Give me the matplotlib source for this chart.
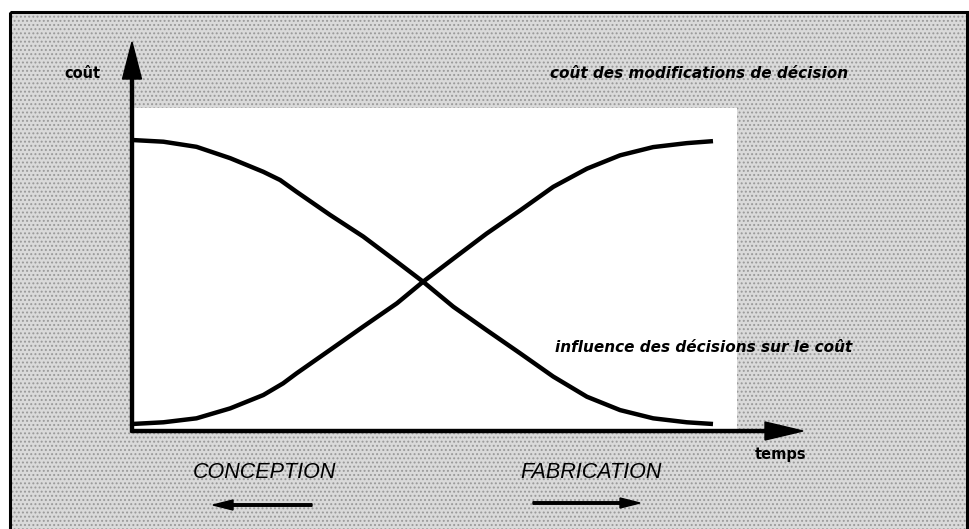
import matplotlib
matplotlib.use("Agg")
import matplotlib.pyplot as plt
from matplotlib.patches import Rectangle

# ---- data ----
temps = [0, 5.4, 11.1, 16.9, 22.6, 25.5, 28.3, 34.1, 39.8, 45.6, 50.1,
         55.3, 61.0, 66.8, 72.5, 78.3, 84.0, 89.7, 95.5, 100]
influence = [100, 99.4, 97.6, 93.6, 88.8, 85.9, 81.8, 73.6, 66.0, 57.1, 50.1,
             41.3, 33.1, 24.9, 16.7, 9.6, 4.9, 2.0, 0.6, 0]

temps_mod = [0, 5.4, 11.1, 16.9, 22.6, 26.0, 28.3, 34.1, 39.8, 45.6, 50.1,
             55.3, 61.0, 66.8, 72.5, 78.3, 84.0, 89.7, 95.5, 100]
cout_mod = [0, 0.6, 2.0, 5.5, 10.2, 14.3, 17.8, 26.1, 34.3, 42.5, 50.1,
            58.2, 67.0, 75.2, 83.5, 89.9, 94.6, 97.5, 98.9, 99.6]

label_y = "coût"
label_x = "temps"
label_mod = "coût des modifications de décision"
label_inf = "influence des décisions sur le coût"
phase_left = "CONCEPTION"
phase_right = "FABRICATION"

plt.rcParams["hatch.linewidth"] = 0.9

W, H = 970, 529
fig = plt.figure(figsize=(W / 100, H / 100), dpi=100)
fig.patch.set_facecolor("white")

# background / decoration layer in pixel coordinates
bg = fig.add_axes([0, 0, 1, 1])
bg.set_xlim(0, W)
bg.set_ylim(H, 0)
bg.axis("off")

bg.add_patch(Rectangle((10, 12), 957, 540, facecolor="#dadada", edgecolor="#999999",
                       lw=0, hatch="....", zorder=0))
bg.add_patch(Rectangle((10, 12), 957, 540, facecolor="none", edgecolor="black",
                       lw=2.2, zorder=0.5))
bg.add_patch(Rectangle((133, 108), 604, 322, facecolor="white", edgecolor="none", zorder=1))

# axes arrows
bg.arrow(132, 432, 0, -390, width=3, head_width=19, head_length=37,
         length_includes_head=True, color="black", zorder=3)
bg.arrow(131, 431, 672, 0, width=3, head_width=18, head_length=38,
         length_includes_head=True, color="black", zorder=3)

# phase arrows
bg.arrow(312, 505, -99, 0, width=2.5, head_width=10, head_length=20,
         length_includes_head=True, color="black", zorder=3)
bg.arrow(533, 503, 107, 0, width=2.5, head_width=10, head_length=20,
         length_includes_head=True, color="black", zorder=3)

# texts
bg.text(82, 74, label_y, fontsize=10.5, fontweight="bold", ha="center", va="center", zorder=4)
bg.text(781, 455, label_x, fontsize=10.5, fontweight="bold", ha="center", va="center", zorder=4)
bg.text(699, 74, label_mod, fontsize=11, fontweight="bold", style="italic",
        ha="center", va="center", zorder=4)
bg.text(704, 347, label_inf, fontsize=11, fontweight="bold", style="italic",
        ha="center", va="center", zorder=4)
bg.text(265, 472, phase_left, fontsize=15.5, style="italic", family="Liberation Sans",
        ha="center", va="center", zorder=4)
bg.text(591, 472, phase_right, fontsize=15.5, style="italic", family="Liberation Sans",
        ha="center", va="center", zorder=4)

# data axes
ax = fig.add_axes([132 / W, (H - 424) / H, 581 / W, 284 / H])
ax.patch.set_alpha(0)
ax.set_xlim(0, 100)
ax.set_ylim(0, 100)
ax.axis("off")
ax.plot(temps, influence, color="black", lw=3.2, solid_capstyle="butt",
        solid_joinstyle="round", clip_on=False, zorder=5)
ax.plot(temps_mod, cout_mod, color="black", lw=3.2, solid_capstyle="butt",
        solid_joinstyle="round", clip_on=False, zorder=5)

fig.savefig("out.png", dpi=100)
